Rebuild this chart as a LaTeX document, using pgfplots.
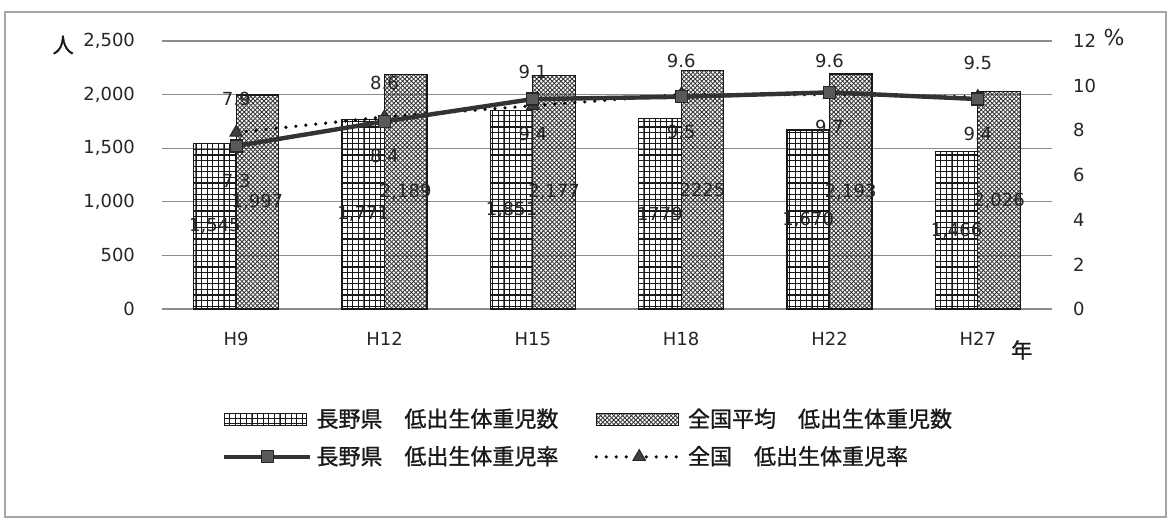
\documentclass[border=0pt]{standalone}
\usepackage{pgfplots}
\pgfplotsset{compat=1.18}
\usepackage{pgfplotstable}
\usepackage{fontspec}
\setmainfont{DejaVu Sans}
\newfontfamily\jp[FakeBold=1.2]{Noto Sans CJK JP}
\usetikzlibrary{patterns,patterns.meta}

% fine square grid for the prefecture bars
\pgfdeclarepattern{
  name=kgrid, type=uncolored,
  bottom left={\pgfpoint{-0.3pt}{-0.3pt}},
  top right={\pgfpoint{3.1pt}{3.1pt}},
  tile size={\pgfpoint{2.8pt}{2.8pt}},
  code={
    \pgfsetlinewidth{0.6pt}
    \pgfpathmoveto{\pgfpoint{0pt}{0pt}}\pgfpathlineto{\pgfpoint{2.8pt}{0pt}}
    \pgfpathmoveto{\pgfpoint{0pt}{0pt}}\pgfpathlineto{\pgfpoint{0pt}{2.8pt}}
    \pgfusepath{stroke}
  }
}
% fine diagonal cross-hatch for the national bars
\pgfdeclarepattern{
  name=fhatch, type=uncolored,
  bottom left={\pgfpoint{-0.2pt}{-0.2pt}},
  top right={\pgfpoint{2.4pt}{2.4pt}},
  tile size={\pgfpoint{2.2pt}{2.2pt}},
  code={
    \pgfsetlinewidth{0.4pt}
    \pgfpathmoveto{\pgfpoint{0pt}{0pt}}\pgfpathlineto{\pgfpoint{2.2pt}{2.2pt}}
    \pgfpathmoveto{\pgfpoint{0pt}{2.2pt}}\pgfpathlineto{\pgfpoint{2.2pt}{0pt}}
    \pgfusepath{stroke}
  }
}

\pgfplotstableread{
x cnt lab rate
0 1545 1,545 7.3
1 1771 1,771 8.4
2 1851 1,851 9.4
3 1779 1779 9.5
4 1670 1,670 9.7
5 1466 1,466 9.4
}\nagano

\pgfplotstableread{
x cnt lab rate
0 1997 1,997 7.9
1 2189 2,189 8.6
2 2177 2,177 9.1
3 2225 2225 9.6
4 2193 2,193 9.6
5 2026 2,026 9.5
}\zenkoku

\pgfplotsset{
  naganobar/.style={draw=black!90, line width=0.6pt, pattern={kgrid}, pattern color=black!90},
  zenkokubar/.style={draw=black!90, line width=0.6pt, pattern={fhatch}, pattern color=black!80},
  patchlegend/.style={legend image code/.code={\draw[##1] (0pt,-3pt) rectangle (41pt,3pt);}},
  linelegend/.style={legend image code/.code={\draw[mark repeat=2,mark phase=2,##1] plot coordinates {(0pt,0pt) (21.5pt,0pt) (43pt,0pt)};}},
  naganoline/.style={color=black!80, line width=2.2pt, mark=square*, mark size=3pt,
    mark options={solid, fill=black!65, draw=black!85, line width=0.6pt}},
  zenkokuline/.style={color=black, line width=1.8pt, line cap=round, dash pattern=on 0pt off 5pt,
    mark=triangle*, mark size=3.6pt, mark options={solid, fill=black!75, draw=black!85, line width=0.5pt}},
  frame/.style={scale only axis, width=445pt, height=134pt, at={(81pt,105pt)}, anchor=south west,
    xmin=-0.5, xmax=5.5, axis line style={draw=none}, major tick length=0pt,
    tick label style={font=\fontsize{9}{10}\selectfont, text=black!85},
    /pgf/number format/assume math mode=true, clip=false},
}

\begin{document}
\begin{tikzpicture}
\useasboundingbox (0,0) rectangle (586pt,259.5pt);

% counts (left axis)
\begin{axis}[frame,
  ymin=0, ymax=2500, ytick={0,500,...,2500},
  xtick={0,...,5}, xticklabels={H9,H12,H15,H18,H22,H27},
  yticklabel style={xshift=-10pt},
  xticklabel style={yshift=-8pt},
  ymajorgrids, grid style={black!45, line width=0.6pt},
  ybar=0pt, bar width=21.25pt,
  nodes near coords, point meta=explicit symbolic,
  visualization depends on={rawy \as \ry},
  every node near coord/.append style={anchor=center, yshift={-0.0268pt*\ry},
    font=\fontsize{9}{10}\selectfont, text=black!85},
]
\addplot[naganobar] table[x=x, y=cnt, meta=lab] {\nagano};
\addplot[zenkokubar] table[x=x, y=cnt, meta=lab] {\zenkoku};

\node[font=\jp\fontsize{10.5}{12}\selectfont, text=black!90] at (axis description cs:-0.111,0.985) {人};
\node[font=\fontsize{11}{12}\selectfont, text=black!85] at (axis description cs:1.0697,1.012) {\%};
\node[font=\jp\fontsize{10.5}{12}\selectfont, text=black!90] at (axis description cs:0.966,-0.153) {年};
\end{axis}

% rates (right axis)
\begin{axis}[frame,
  ymin=0, ymax=12, ytick={0,2,...,12},
  yticklabel pos=right, xtick=\empty,
  yticklabel style={xshift=7pt},
  legend columns=2, legend cell align=left,
  legend style={at={(axis description cs:0.067,-0.355)}, anchor=north west,
    draw=none, fill=none, inner sep=0pt,
    font=\jp\fontsize{11}{12}\selectfont, text=black!90, row sep=4pt,
    /tikz/every odd column/.append style={column sep=0pt},
    /tikz/every even column/.append style={column sep=16pt}},
]
\addlegendimage{naganobar, patchlegend}
\addlegendentry{長野県　低出生体重児数}
\addlegendimage{zenkokubar, patchlegend}
\addlegendentry{全国平均　低出生体重児数}
\addlegendimage{naganoline, linelegend}
\addlegendentry{長野県　低出生体重児率}
\addlegendimage{zenkokuline, linelegend}
\addlegendentry{全国　低出生体重児率}

\addplot[zenkokuline, forget plot, nodes near coords, point meta=explicit,
  every node near coord/.append style={anchor=center, yshift=17pt,
    font=\fontsize{9}{10}\selectfont, text=black!85}]
  table[x=x, y=rate, meta=rate] {\zenkoku};
\addplot[naganoline, forget plot, nodes near coords, point meta=explicit,
  every node near coord/.append style={anchor=center, yshift=-17.5pt,
    font=\fontsize{9}{10}\selectfont, text=black!85}]
  table[x=x, y=rate, meta=rate] {\nagano};
\end{axis}

% outer frame of the chart area
\draw[black!35, line width=0.7pt] (2.5pt,1pt) rectangle (583pt,253.5pt);
\end{tikzpicture}
\end{document}
